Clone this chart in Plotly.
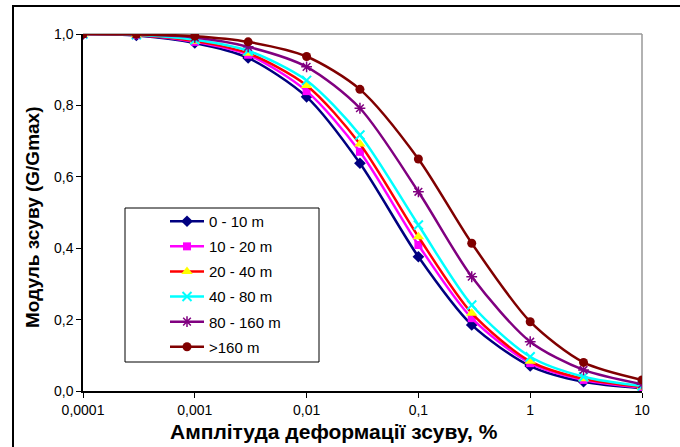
import plotly.graph_objects as go

strain = [0.0001, 0.0003, 0.001, 0.003, 0.01, 0.03, 0.1, 0.3, 1, 3, 10]
g_0_10 = [1.0, 0.996, 0.975, 0.933, 0.824, 0.638, 0.376, 0.185, 0.070, 0.026, 0.008]
g_10_20 = [1.0, 0.997, 0.978, 0.942, 0.840, 0.670, 0.409, 0.204, 0.078, 0.031, 0.010]
g_20_40 = [1.0, 0.997, 0.980, 0.946, 0.856, 0.692, 0.432, 0.218, 0.083, 0.034, 0.011]
g_40_80 = [1.0, 0.998, 0.984, 0.953, 0.870, 0.717, 0.465, 0.241, 0.096, 0.040, 0.014]
g_80_160 = [1.0, 0.999, 0.990, 0.964, 0.908, 0.792, 0.558, 0.320, 0.138, 0.059, 0.019]
g_160 = [1.0, 0.999, 0.994, 0.978, 0.937, 0.845, 0.650, 0.414, 0.194, 0.080, 0.031]

series_names = ["0 - 10 m", "10 - 20 m", "20 - 40 m", "40 - 80 m", "80 - 160 m", ">160 m"]
x_tickvals = [0.0001, 0.001, 0.01, 0.1, 1, 10]
x_ticktext = ["0,0001", "0,001", "0,01", "0,1", "1", "10"]
y_tickvals = [0, 0.2, 0.4, 0.6, 0.8, 1.0]
y_ticktext = ["0,0", "0,2", "0,4", "0,6", "0,8", "1,0"]

FONT = "Arial, 'Liberation Sans', sans-serif"

styles = [
    dict(line="#000080", mk=dict(symbol="diamond", color="#000080", size=9)),
    dict(line="#FF00FF", mk=dict(symbol="square", color="#FF00FF", size=8)),
    dict(line="#FF0000", mk=dict(symbol="triangle-up", color="#FFFF00", size=10)),
    dict(line="#00FFFF", mk=dict(symbol="x-thin-open", color="#00FFFF", size=9, line=dict(color="#00FFFF", width=2))),
    dict(line="#800080", mk=dict(symbol="asterisk-open", color="#800080", size=9, line=dict(color="#800080", width=1.5))),
    dict(line="#800000", mk=dict(symbol="circle", color="#800000", size=9)),
]

data = [g_0_10, g_10_20, g_20_40, g_40_80, g_80_160, g_160]

PW, PH = 559, 357
def px(x):
    return (x - 83) / PW
def py(y):
    return (391 - y) / PH

fig = go.Figure()
for i, (name, ys, st) in enumerate(zip(series_names, data, styles)):
    fig.add_trace(go.Scatter(
        x=strain, y=ys, name=name, mode="lines+markers", legendgroup=f"g{i}",
        line=dict(color=st["line"], width=2.5, shape="spline", smoothing=0.8),
        marker=st["mk"],
    ))

fig.update_layout(
    width=680, height=447,
    margin=dict(l=83, r=38, t=34, b=56),
    paper_bgcolor="white", plot_bgcolor="white",
    font=dict(family=FONT, size=13, color="black"),
    showlegend=True,
    legend=dict(
        x=px(165), y=py(205), xanchor="left", yanchor="top",
        borderwidth=0, bgcolor="rgba(0,0,0,0)",
        font=dict(family=FONT, size=15, color="black"),
        tracegroupgap=2.6, itemwidth=34,
    ),
    xaxis=dict(
        type="log", range=[-4, 1], tickvals=x_tickvals, ticktext=x_ticktext,
        showgrid=False, zeroline=False, showline=True, linecolor="black", linewidth=1.5,
        ticks="outside", ticklen=5, tickcolor="black",
        tickfont=dict(family=FONT, size=14),
    ),
    yaxis=dict(
        range=[0, 1.0], tickvals=y_tickvals, ticktext=y_ticktext,
        showgrid=False, zeroline=False, showline=True, linecolor="black", linewidth=1.5,
        ticks="outside", ticklen=5, tickcolor="black",
        tickfont=dict(family=FONT, size=14),
    ),
    shapes=[
        dict(type="line", xref="paper", yref="paper", x0=0, x1=1, y0=1, y1=1,
             line=dict(color="#999999", width=1.5), layer="below"),
        dict(type="line", xref="paper", yref="paper", x0=1, x1=1, y0=0, y1=1,
             line=dict(color="#999999", width=1.5), layer="below"),
        dict(type="rect", xref="paper", yref="paper",
             x0=px(13), x1=1.2, y0=-0.3, y1=py(6),
             line=dict(color="black", width=2)),
        dict(type="rect", xref="paper", yref="paper",
             x0=px(125), x1=px(319), y0=py(362), y1=py(208),
             line=dict(color="black", width=1), fillcolor="white", layer="below"),
    ],
    annotations=[
        dict(text="<b>Амплітуда деформації зсуву, %</b>", xref="paper", yref="paper",
             x=px(334), y=py(431), xanchor="center", yanchor="middle",
             showarrow=False, font=dict(family=FONT, size=21, color="black")),
        dict(text="<b>Модуль зсуву (G/Gmax)</b>", xref="paper", yref="paper",
             x=px(33), y=py(217), xanchor="center", yanchor="middle",
             textangle=-90, showarrow=False, font=dict(family=FONT, size=19, color="black")),
    ],
)

fig.write_html("out.html")
